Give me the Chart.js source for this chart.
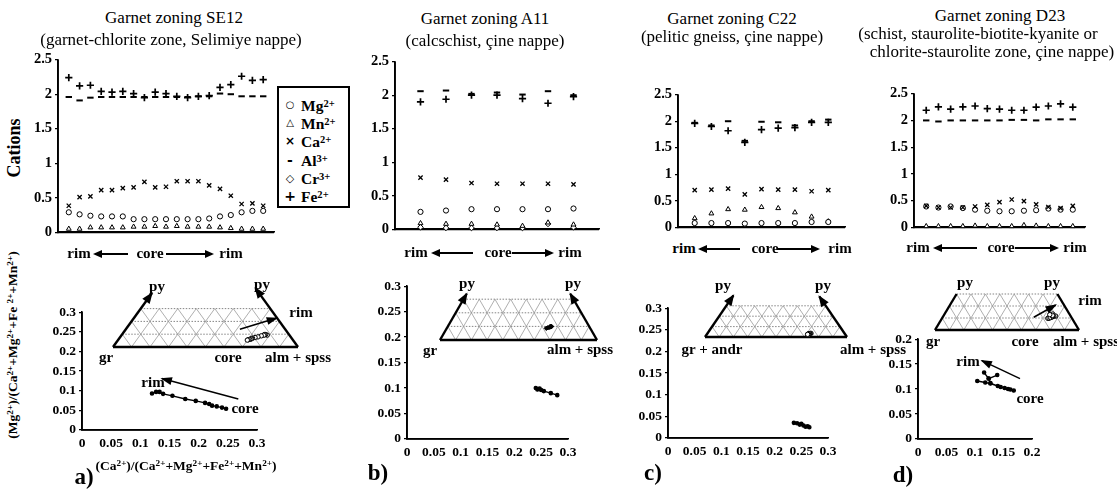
<!DOCTYPE html>
<html><head><meta charset="utf-8">
<script src="https://cdn.jsdelivr.net/npm/chart.js@4.4.1/dist/chart.umd.min.js"></script>
<style>
body{margin:0;background:#fff;}
#root{position:relative;width:1117px;height:489px;overflow:hidden;background:#fff;font-family:"Liberation Serif","Times New Roman",serif;color:#000;}
canvas{position:absolute;}
.t{position:absolute;white-space:nowrap;transform:translate(-50%,-50%);line-height:1;}
.b{font-weight:bold;}
sup{font-size:0.68em;vertical-align:0.45em;line-height:0;}
#legend{position:absolute;left:277px;top:86px;width:69px;height:118px;border:2px solid #000;}
</style></head><body><div id="root"><div id="legend"></div></div>
<script>
// ---------------- DATA ----------------
const ions = ['Mg','Mn','Ca','Al','Cr','Fe'];
const charges = ['2+','2+','2+','3+','3+','2+'];
const tickFmt = v => String(+(+v).toFixed(2));

// Panel a - SE12 (19 analyses rim -> core -> rim)
const aMg = [0.29,0.26,0.24,0.23,0.23,0.23,0.19,0.19,0.19,0.19,0.19,0.19,0.19,0.2,0.23,0.25,0.29,0.31,0.31];
const aMn = [0.05,0.05,0.07,0.07,0.07,0.07,0.08,0.08,0.09,0.08,0.09,0.08,0.08,0.08,0.07,0.06,0.05,0.05,0.05];
const aCa = [0.385,0.51,0.52,0.61,0.61,0.64,0.65,0.73,0.65,0.66,0.74,0.74,0.74,0.68,0.63,0.53,0.41,0.42,0.385];
const aAl = [1.96,1.91,1.95,1.96,1.96,1.96,1.96,1.96,1.96,1.96,1.96,1.96,1.97,1.97,2.01,2.0,1.97,1.97,1.97];
const aCr = [];
const aFe = [2.24,2.12,2.13,2.04,2.03,2.04,2.01,1.95,2.03,2.01,1.97,1.95,1.97,1.98,2.1,2.14,2.26,2.2,2.21];

// Panel b - A11 (7 analyses)
const bMg = [0.26,0.28,0.3,0.3,0.3,0.3,0.31];
const bMn = [0.09,0.08,0.08,0.07,0.05,0.1,0.07];
const bCa = [0.77,0.74,0.69,0.68,0.68,0.68,0.67];
const bAl = [2.06,2.07,2.02,2.04,2.01,2.06,2.0];
const bCr = [0.03,0.02,0.02,0.02,0.02,0.08,0.03];
const bFe = [1.9,1.94,2.0,2.0,1.95,1.88,1.98];

// Panel c - C22 (9 analyses)
const cMg = [0.08,0.08,0.08,0.07,0.08,0.08,0.08,0.1,0.1];
const cMn = [0.17,0.26,0.34,0.33,0.38,0.36,0.28,0.2,0.11];
const cCa = [0.7,0.71,0.73,0.62,0.72,0.71,0.71,0.68,0.7];
const cAl = [1.97,1.92,2.0,1.63,1.99,1.98,1.92,2.0,2.03];
const cCr = [];
const cFe = [1.96,1.9,1.82,1.6,1.84,1.87,1.88,1.98,1.98];

// Panel d - D23 (13 analyses)
const dMg = [0.39,0.37,0.39,0.36,0.33,0.31,0.3,0.3,0.31,0.32,0.35,0.33,0.33];
const dMn = [0.02,0.02,0.02,0.02,0.03,0.02,0.02,0.02,0.04,0.03,0.02,0.02,0.02];
const dCa = [0.4,0.37,0.37,0.37,0.39,0.42,0.47,0.52,0.49,0.43,0.38,0.36,0.4];
const dAl = [2.0,1.98,2.0,2.0,2.0,2.0,2.0,2.01,2.01,2.0,2.02,2.02,2.02];
const dCr = [];
const dFe = [2.19,2.255,2.21,2.255,2.27,2.22,2.21,2.19,2.19,2.25,2.27,2.31,2.25];

// Lower plots: X = Ca/(Ca+Mg+Fe+Mn), Y = Mg/(Ca+Mg+Fe+Mn)
const aXgr = [0.12,0.127,0.133,0.139,0.155,0.177,0.195,0.211,0.218,0.223,0.231,0.24,0.247];
const aYpy = [0.093,0.097,0.097,0.092,0.087,0.079,0.074,0.069,0.066,0.062,0.06,0.057,0.054];
const bXgr = [0.24,0.243,0.247,0.25,0.255,0.268,0.28];
const bYpy = [0.1,0.097,0.099,0.096,0.094,0.09,0.086];
const cXgr = [0.236,0.242,0.247,0.25,0.254,0.258,0.262,0.265];
const cYpy = [0.035,0.034,0.031,0.033,0.029,0.026,0.027,0.025];
const dXgr = [0.104,0.118,0.127,0.14,0.152,0.162,0.168,0.158,0.145,0.127,0.124,0.116,0.124,0.139];
const dYpy = [0.116,0.113,0.111,0.106,0.102,0.099,0.097,0.1,0.104,0.112,0.121,0.133,0.121,0.128];

// trend arrows (rim direction) in lower plots [x0,y0,x1,y1]
const aTrend = [0.268,0.079,0.137,0.131];
const dTrend = [0.179,0.121,0.112,0.157];

// ternary diagram (gr - py - alm+spss), truncated at py = 0.3
const ternGrid = [0.1,0.2,0.3,0.4,0.5,0.6,0.7,0.8,0.9];
const ternPyLines = [0.1,0.2,0.3];
const ternTop = 0.3;
const aTernArrows = [0.42,0.46];
const bTernArrows = [0.34,0.34];
const cTernArrows = [0.4,0.39];
const dTernArrows = [];
const aTernTrend = [0.686,0.139,0.885,0.226];
const dTernTrend = [0.686,0.106,0.838,0.208];

// ---------------- HELPERS ----------------
const root = document.getElementById('root');
Chart.defaults.font.family = '"Liberation Serif","Times New Roman",serif';
Chart.defaults.color = '#000';

const arrowPlugin = {
  id:'arrowHeads',
  afterDatasetsDraw(chart){
    const ctx = chart.ctx;
    chart.data.datasets.forEach((ds,i)=>{
      if(!ds.arrowHead) return;
      const pts = chart.getDatasetMeta(i).data;
      const p1 = pts[pts.length-2], p2 = pts[pts.length-1];
      const ang = Math.atan2(p2.y-p1.y, p2.x-p1.x);
      const L = ds.arrowHead.len, W = ds.arrowHead.w;
      ctx.save(); ctx.fillStyle='#000'; ctx.beginPath();
      ctx.moveTo(p2.x+Math.cos(ang)*1.5, p2.y+Math.sin(ang)*1.5);
      ctx.lineTo(p2.x-L*Math.cos(ang)+W*Math.sin(ang), p2.y-L*Math.sin(ang)-W*Math.cos(ang));
      ctx.lineTo(p2.x-L*Math.cos(ang)-W*Math.sin(ang), p2.y-L*Math.sin(ang)+W*Math.cos(ang));
      ctx.closePath(); ctx.fill(); ctx.restore();
    });
  }
};

function place(area, yW, xH, pad){
  const c = document.createElement('canvas');
  const left = area.l - yW - pad.l, top = area.t - pad.t;
  const w = Math.round(area.r - area.l + yW + pad.l + pad.r);
  const h = Math.round(area.b - area.t + xH + pad.t + pad.b);
  c.width = w; c.height = h;
  c.style.left = left+'px'; c.style.top = top+'px';
  c.style.width = w+'px'; c.style.height = h+'px';
  root.appendChild(c);
  return c;
}
function txt(html, x, y, size, bold, extra){
  const d = document.createElement('div');
  d.className = 't' + (bold?' b':'');
  d.innerHTML = html;
  d.style.left = x+'px'; d.style.top = y+'px';
  d.style.fontSize = size+'px';
  if(extra==='rot') d.style.transform='translate(-50%,-50%) rotate(-90deg)';
  root.appendChild(d);
  return d;
}
function harrow(x1,x2,y,dir){
  const d = document.createElement('div');
  d.style.cssText = `position:absolute;left:${x1}px;top:${y-0.75}px;width:${x2-x1}px;height:1.5px;background:#000;`;
  const h = document.createElement('div');
  h.style.cssText = 'position:absolute;top:-3.25px;width:0;height:0;border-top:4px solid transparent;border-bottom:4px solid transparent;' +
    (dir>0 ? 'right:-2px;border-left:9px solid #000;' : 'left:-2px;border-right:9px solid #000;');
  d.appendChild(h); root.appendChild(d);
}
const ion = i => ions[i]+'<sup>'+charges[i]+'</sup>';

const markStyle = {
  Mg:{pointStyle:'circle', r:2.6, bw:1},
  Mn:{pointStyle:'triangle', r:2.8, bw:1},
  Ca:{pointStyle:'crossRot', r:3, bw:1.3},
  Al:{pointStyle:'line', r:3.2, bw:2},
  Cr:{pointStyle:'rectRot', r:2.8, bw:1},
  Fe:{pointStyle:'cross', r:3.6, bw:1.7}
};

function yScale(max, step, size, yW){
  return {type:'linear', min:0, max:max,
    grid:{display:true, drawOnChartArea:false, drawTicks:true, tickLength:3, color:'#000', lineWidth:1.2},
    border:{display:true, color:'#000', width:1.6},
    ticks:{stepSize:step, padding:3, font:{size:size, weight:'bold'}, color:'#000', callback:tickFmt},
    afterFit:s=>{s.width=yW;}};
}
// axis line drawn along the library scales (L shape from top of y axis to end of x axis)
function axisLine(xmax, ymax){
  return {data:[{x:0,y:ymax},{x:0,y:0},{x:xmax,y:0}], showLine:true, borderColor:'#000', borderWidth:1.7,
    pointRadius:0, clip:false, tension:0};
}

function topChart(area, values){
  const yW = 30, xH = 4, pad = {l:0,r:6,t:8,b:4};
  const c = place(area, yW, xH, pad);
  const n = values.Fe.length;
  const order = ['Fe','Al','Ca','Mg','Mn','Cr'];
  const datasets = order.map(k => ({
    label:k,
    data:(values[k]||[]).map((v,i)=>({x:i+1,y:v})),
    showLine:false,
    pointStyle:markStyle[k].pointStyle,
    pointRadius:markStyle[k].r,
    borderWidth:markStyle[k].bw,
    borderColor:'#000', backgroundColor:'#fff', clip:false
  }));
  datasets.push(axisLine(n+1, 2.5));
  const x = {type:'linear', min:0, max:n+1, ticks:{display:false},
    grid:{display:false, drawTicks:false},
    border:{display:true, color:'#000', width:1.6},
    afterFit:s=>{s.height=xH;}};
  const y = yScale(2.5, 0.5, 14.5, yW);
  new Chart(c, {type:'scatter', data:{datasets}, options:{responsive:false, animation:false, events:[],
    layout:{padding:{left:pad.l,right:pad.r,top:pad.t,bottom:pad.b}},
    plugins:{legend:{display:false}, tooltip:{enabled:false}}, scales:{x, y}}});
}

function lowChart(area, xmax, ymax, xs, ys, trend){
  const yW = 36, xH = 26, pad = {l:0,r:14,t:9,b:4};
  const c = place(area, yW, xH, pad);
  const datasets = [{
    data: xs.map((v,i)=>({x:v,y:ys[i]})), showLine:true, borderColor:'#000', borderWidth:1.4,
    pointStyle:'circle', pointRadius:1.6, backgroundColor:'#000', clip:false
  }];
  if(trend){
    datasets.push({data:[{x:trend[0],y:trend[1]},{x:trend[2],y:trend[3]}], showLine:true, borderColor:'#000', borderWidth:1.4, pointRadius:0, clip:false, arrowHead:{len:10,w:4}});
  }
  datasets.push(axisLine(xmax, ymax));
  const x = {type:'linear', min:0, max:xmax,
    grid:{display:false, drawTicks:false},
    border:{display:true, color:'#000', width:1.6},
    ticks:{stepSize:0.05, autoSkip:false, maxRotation:0, minRotation:0, padding:5, font:{size:13.5, weight:'bold'}, color:'#000', callback:tickFmt},
    afterFit:s=>{s.height=xH;}};
  const y = yScale(ymax, 0.05, 13.5, yW);
  new Chart(c, {type:'scatter', data:{datasets}, options:{responsive:false, animation:false, events:[],
    layout:{padding:{left:pad.l,right:pad.r,top:pad.t,bottom:pad.b}},
    plugins:{legend:{display:false}, tooltip:{enabled:false}}, scales:{x, y}}, plugins:[arrowPlugin]});
}

// ternary: x = alm + py/2, y = py (gr at x=0, alm+spss at x=1)
function ternChart(area, ymax, arrows, grs, pys, trend, compStyle){
  const pad = {l:8,r:8,t:8,b:8};
  const c = place(area, 0, 0, pad);
  const seg = (x0,y0,x1,y1) => [{x:x0,y:y0},{x:x1,y:y1}];
  const datasets = [];
  datasets.push({data: grs.map((g,i)=>({x:1-g-pys[i]/2, y:pys[i]})), showLine:true, borderColor:'#000',
    pointStyle:compStyle, pointRadius:2.2, borderWidth:1, backgroundColor:compStyle==='rectRot'?'#000':'#fff', clip:false});
  if(trend) datasets.push({data:seg(trend[0],trend[1],trend[2],trend[3]), showLine:true, borderColor:'#000', borderWidth:1.6, pointRadius:0, clip:false, arrowHead:{len:10,w:4}});
  const thick = {showLine:true, borderColor:'#000', borderWidth:2.4, pointRadius:0, clip:false};
  datasets.push(Object.assign({data:seg(0,0,1,0)}, thick));
  if(arrows.length){
    datasets.push(Object.assign({data:seg(0,0,arrows[0]/2,arrows[0]), arrowHead:{len:10,w:4.5}}, thick));
    datasets.push(Object.assign({data:seg(1,0,1-arrows[1]/2,arrows[1]), arrowHead:{len:10,w:4.5}}, thick));
  } else {
    datasets.push(Object.assign({data:seg(0,0,ternTop/2,ternTop)}, thick));
    datasets.push(Object.assign({data:seg(1,0,1-ternTop/2,ternTop)}, thick));
  }
  const thin = {showLine:true, borderColor:'#9a9a9a', borderWidth:0.8, pointRadius:0, clip:false};
  ternGrid.forEach(f=>{
    const e1 = Math.min(ternTop, 1-f);
    datasets.push(Object.assign({data:seg(f,0,f+e1/2,e1)}, thin));
    const e2 = Math.min(ternTop, f);
    datasets.push(Object.assign({data:seg(f,0,f-e2/2,e2)}, thin));
  });
  const dot = {showLine:true, borderColor:'#777', borderWidth:0.9, borderDash:[1.5,1.5], pointRadius:0, clip:false};
  ternPyLines.forEach(p=>{ datasets.push(Object.assign({data:seg(p/2,p,1-p/2,p)}, dot)); });
  new Chart(c, {type:'scatter', data:{datasets}, options:{responsive:false, animation:false, events:[],
    layout:{padding:{left:pad.l,right:pad.r,top:pad.t,bottom:pad.b}},
    plugins:{legend:{display:false}, tooltip:{enabled:false}},
    scales:{x:{type:'linear',display:false,min:0,max:1}, y:{type:'linear',display:false,min:0,max:ymax}}}, plugins:[arrowPlugin]});
}

// ---------------- TOP PANELS ----------------
topChart({l:58,r:274,t:56,b:236}, {Mg:aMg,Mn:aMn,Ca:aCa,Al:aAl,Cr:aCr,Fe:aFe});
topChart({l:395,r:599,t:58,b:233}, {Mg:bMg,Mn:bMn,Ca:bCa,Al:bAl,Cr:bCr,Fe:bFe});
topChart({l:678,r:845,t:91,b:230.5}, {Mg:cMg,Mn:cMn,Ca:cCa,Al:cAl,Cr:cCr,Fe:cFe});
topChart({l:914,r:1085,t:90,b:230.5}, {Mg:dMg,Mn:dMn,Ca:dCa,Al:dAl,Cr:dCr,Fe:dFe});

// ---------------- LOWER PANELS ----------------
lowChart({l:82,r:257,t:310,b:430}, 0.3, 0.3, aXgr, aYpy, aTrend);
lowChart({l:407,r:568,t:284,b:439}, 0.3, 0.3, bXgr, bYpy, null);
lowChart({l:668,r:828,t:306,b:438}, 0.3, 0.3, cXgr, cYpy, null);
lowChart({l:918,r:1032,t:336.5,b:438.5}, 0.2, 0.2, dXgr, dYpy, dTrend);

// ---------------- TERNARY INSETS ----------------
ternChart({l:113,r:298,t:346-0.5*127,b:346}, 0.5, aTernArrows, aXgr, aYpy, aTernTrend, 'circle');
ternChart({l:440,r:597,t:339-0.5*135,b:339}, 0.5, bTernArrows, bXgr, bYpy, null, 'rectRot');
ternChart({l:705,r:847,t:336-0.5*103,b:336}, 0.5, cTernArrows, cXgr, cYpy, null, 'circle');
ternChart({l:935,r:1079,t:330-0.5*120,b:330}, 0.5, dTernArrows, dXgr, dYpy, dTernTrend, 'circle');

// ---------------- TEXT ----------------
txt('Garnet zoning SE12', 174, 17, 17);
txt('(garnet-chlorite zone, Selimiye nappe)', 171, 39, 17);
txt('Garnet zoning A11', 485, 18, 17);
txt('(calcschist, çine nappe)', 485, 40, 17);
txt('Garnet zoning C22', 732, 18, 17);
txt('(pelitic gneiss, çine nappe)', 732, 36, 17);
txt('Garnet zoning D23', 1000, 15, 17);
txt('(schist, staurolite-biotite-kyanite or', 978, 33, 17);
txt('chlorite-staurolite zone, çine nappe)', 992, 51, 17);
txt('Cations', 14, 148, 18, true, 'rot');

// legend
const lg = document.getElementById('legend');
const legMarks = ['○','△','×','-','◇','+'];
const legMarkSize = [10,10,12,14,11,14];
ions.forEach((k,i)=>{
  const yc = 17 + i*18.2;
  const m = document.createElement('div');
  m.className='t b'; m.style.left='11px'; m.style.top=yc+'px'; m.style.fontSize=legMarkSize[i]+'px';
  m.style.fontFamily='"DejaVu Sans",sans-serif'; m.textContent = legMarks[i];
  lg.appendChild(m);
  const t = document.createElement('div');
  t.className='t b'; t.style.left='22px'; t.style.top=(yc+1)+'px'; t.style.fontSize='15.5px'; t.style.transform='translate(0,-50%)';
  t.innerHTML = ion(i);
  lg.appendChild(t);
});

// rim <- core -> rim rows
function rimRow(r1, a1, core, a2, r2, y){
  txt('rim', r1, y, 15, true); harrow(a1[0],a1[1],y+1,-1);
  txt('core', core, y, 15, true); harrow(a2[0],a2[1],y+1,1);
  txt('rim', r2, y, 15, true);
}
rimRow(79,[95,128],150,[166,212],231,253);
rimRow(416,[433,473],498,[512,552],570,252);
rimRow(684,[700,740],765,[778,818],840,248);
rimRow(918,[935,977],1001,[1015,1057],1075,247);

// ternary labels
txt('py', 157, 286, 15, true); txt('py', 262, 284, 15, true);
txt('gr', 106, 357, 15, true); txt('core', 228, 357, 15, true); txt('alm + spss', 298, 357, 15, true);
txt('rim', 301, 312, 15, true);
txt('py', 467, 283, 15, true); txt('py', 573, 283, 15, true);
txt('gr', 430, 350, 15, true); txt('alm + spss', 580, 349, 15, true);
txt('py', 723, 285, 15, true); txt('py', 823, 285, 15, true);
txt('gr + andr', 712, 349, 15, true); txt('alm + spss', 873, 349, 15, true);
txt('py', 965, 282, 15, true); txt('py', 1052, 282, 15, true);
txt('rim', 1090, 300, 15, true);
txt('gr', 933, 341, 15, true); txt('core', 1025, 341, 15, true); txt('alm + spss', 1086, 341, 15, true);

// lower-plot labels
txt('rim', 153, 382, 15, true); txt('core', 245, 408, 15, true);
txt('rim', 968, 361, 15, true); txt('core', 1030, 398, 15, true);
txt('(Mg<sup>2+</sup>)/(Ca<sup>2+</sup>+Mg<sup>2+</sup>+Fe <sup>2+</sup>+Mn<sup>2+</sup>)', 13, 345, 13.5, true, 'rot');
txt('(Ca<sup>2+</sup>)/(Ca<sup>2+</sup>+Mg<sup>2+</sup>+Fe<sup>2+</sup>+Mn<sup>2+</sup>)', 186, 466, 13.5, true);
txt('a)', 84, 476, 23, true);
txt('b)', 378, 472, 23, true);
txt('c)', 653, 472, 23, true);
txt('d)', 903, 474, 23, true);
</script>
</body></html>
